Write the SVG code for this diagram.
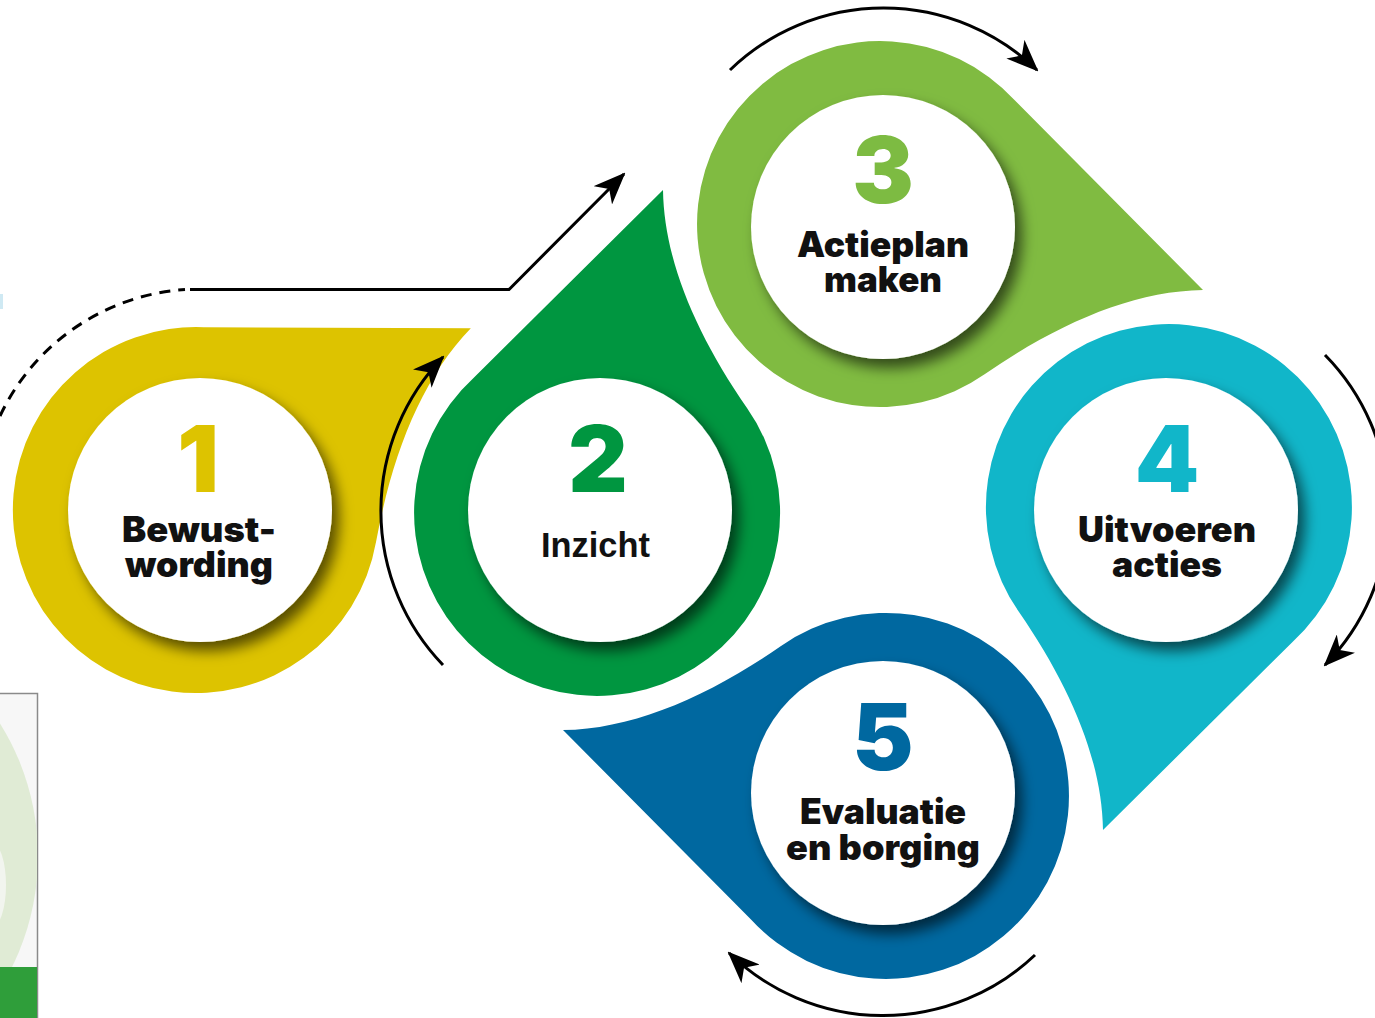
<svg xmlns="http://www.w3.org/2000/svg" width="1375" height="1018" viewBox="0 0 1375 1018">
  <style>
    .num { font-family: Inter, Lato, "Liberation Sans", sans-serif; font-weight: 900; font-size: 92px; text-anchor: middle; }
    .lbl { font-family: Inter, Lato, "Liberation Sans", sans-serif; font-weight: 900; font-size: 35px; text-anchor: middle; fill: #111; }
    .lbl2 { font-family: "Liberation Sans", "DejaVu Sans", sans-serif; font-weight: bold; font-size: 35px; text-anchor: middle; fill: #111; }
    .inner { fill: #fff; filter: url(#sh); }
    .conn { fill: none; stroke: #000; stroke-width: 3; }
  </style>
  <defs>
    <path id="drop" d="M -126.5,-132 L 63,-320 C 64,-250 96,-176 147,-102 A 183 183 0 1 1 -126.5,-132 Z"/>
    <filter id="sh" x="-30%" y="-30%" width="160%" height="160%">
      <feGaussianBlur in="SourceAlpha" stdDeviation="7"/>
      <feOffset dx="7" dy="9" result="b"/>
      <feFlood flood-color="#000" flood-opacity="0.6"/>
      <feComposite in2="b" operator="in"/>
      <feMerge><feMergeNode/><feMergeNode in="SourceGraphic"/></feMerge>
    </filter>
    <marker id="ah" viewBox="0 0 32 26" refX="30" refY="13" markerWidth="32" markerHeight="26" markerUnits="userSpaceOnUse" orient="auto">
      <path d="M0,0 L32,13 L0,26 L9,13 Z" fill="#000"/>
    </marker>
    <clipPath id="boxclip"><rect x="0" y="694" width="37" height="324"/></clipPath>
  </defs>

  <rect width="1375" height="1018" fill="#fff"/>

  <!-- partial thumbnail at bottom-left -->
  <g id="thumb">
    <rect x="-2" y="693.5" width="39.5" height="330" fill="#f7f7f7" stroke="#8a8a8a" stroke-width="1.5"/>
    <g clip-path="url(#boxclip)">
      <circle cx="-212" cy="856" r="250" fill="#e0ebd5"/>
      <ellipse cx="-8" cy="885" rx="14" ry="42" fill="#f2f5ef"/>
      <rect x="0" y="967" width="37" height="51" fill="#2f9e3a"/>
    </g>
  </g>
  <rect x="0" y="294" width="3" height="15" fill="#cfe9f3"/>

  <g id="step1">
    <use href="#drop" transform="translate(200,510) rotate(45)" fill="#DDC300"/>
    <circle class="inner" cx="200" cy="510" r="132"/>
    <text class="num" x="198" y="492" fill="#DDC300">1</text>
    <text class="lbl" x="199" y="542" textLength="154" lengthAdjust="spacingAndGlyphs">Bewust-</text>
    <text class="lbl" x="199" y="577" textLength="148" lengthAdjust="spacingAndGlyphs">wording</text>
  </g>

  <g id="step2">
    <use href="#drop" transform="translate(600,510)" fill="#009640"/>
    <circle class="inner" cx="600" cy="510" r="132"/>
    <text class="num" x="598" y="492" fill="#009640">2</text>
    <text class="lbl2" x="595.5" y="557" textLength="109" lengthAdjust="spacingAndGlyphs">Inzicht</text>
  </g>

  <g id="step3">
    <use href="#drop" transform="translate(883,227) rotate(90)" fill="#80BB41"/>
    <circle class="inner" cx="883" cy="227" r="132"/>
    <text class="num" x="883" y="203" fill="#7DBB42">3</text>
    <text class="lbl" x="883" y="257" textLength="172" lengthAdjust="spacingAndGlyphs">Actieplan</text>
    <text class="lbl" x="883" y="292" textLength="118" lengthAdjust="spacingAndGlyphs">maken</text>
  </g>

  <g id="step4">
    <use href="#drop" transform="translate(1166,510) rotate(180)" fill="#11B6C9"/>
    <circle class="inner" cx="1166" cy="510" r="132"/>
    <text class="num" x="1167" y="492" fill="#11B6C9">4</text>
    <text class="lbl" x="1167" y="542" textLength="178" lengthAdjust="spacingAndGlyphs">Uitvoeren</text>
    <text class="lbl" x="1167" y="577" textLength="110" lengthAdjust="spacingAndGlyphs">acties</text>
  </g>

  <g id="step5">
    <use href="#drop" transform="translate(883,793) rotate(270)" fill="#0068A0"/>
    <circle class="inner" cx="883" cy="793" r="132"/>
    <text class="num" x="883" y="770" fill="#0068A0">5</text>
    <text class="lbl" x="883" y="824" textLength="166" lengthAdjust="spacingAndGlyphs">Evaluatie</text>
    <text class="lbl" x="883" y="860" textLength="194" lengthAdjust="spacingAndGlyphs">en borging</text>
  </g>

  <g id="connectors">
    <path class="conn" d="M 0,416 A 221 221 0 0 1 185,289.5" stroke-dasharray="11 8"/>
    <path class="conn" d="M 190,289.5 L 509,289.5 L 624,174" marker-end="url(#ah)"/>
    <path class="conn" d="M 443,665 A 222 222 0 0 1 443,357" marker-end="url(#ah)"/>
    <path class="conn" d="M 730,70 A 221 221 0 0 1 1037,70" marker-end="url(#ah)"/>
    <path class="conn" d="M 1325,355 A 221 221 0 0 1 1325,665" marker-end="url(#ah)"/>
    <path class="conn" d="M 1035,955 A 221 221 0 0 1 729,953" marker-end="url(#ah)"/>
  </g>
</svg>
